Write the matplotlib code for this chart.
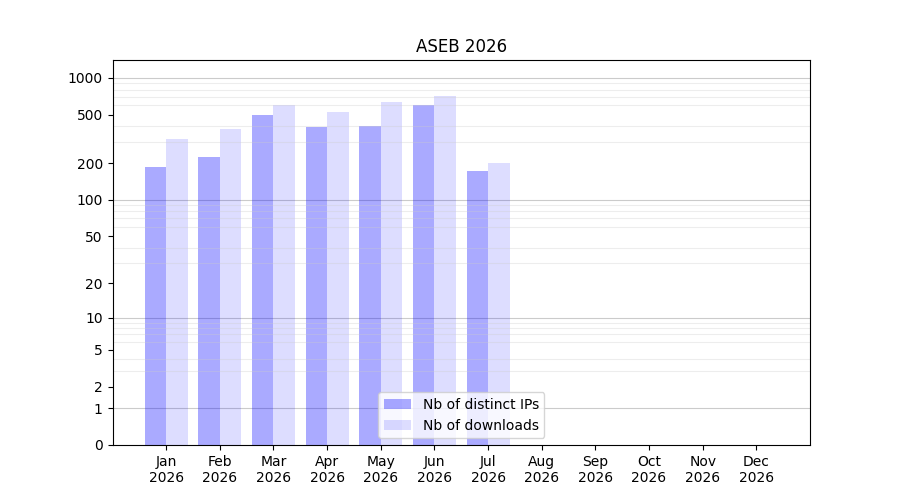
import matplotlib
matplotlib.use("Agg")
import matplotlib.pyplot as plt
import numpy as np

#-------------------------------
#         data
#-------------------------------
months = ["Jan", "Feb", "Mar", "Apr", "May", "Jun", "Jul", "Aug", "Sep", "Oct", "Nov", "Dec"]
year = "2026"
nb_ips = [187, 226, 500, 399, 407, 605, 174, 0, 0, 0, 0, 0]
nb_downloads = [318, 384, 605, 521, 629, 704, 199, 0, 0, 0, 0, 0]
yticks = [0, 1, 2, 5, 10, 20, 50, 100, 200, 500, 1000]

def fwd(v):
    return np.log10(1 + np.clip(v, 0, None))

def inv(v):
    return 10 ** v - 1

#-------------------------------
#         plot
#-------------------------------
fig = plt.figure(figsize=(9, 5), dpi=100)
ax = fig.add_subplot(111)
x = np.arange(len(months))

ax.bar(x - 0.2, nb_ips, width=0.4, color=(0, 0, 1, 0.333), label="Nb of distinct IPs")
ax.bar(x + 0.2, nb_downloads, width=0.4, color=(0, 0, 1, 0.133), label="Nb of downloads")

ax.set_yscale("function", functions=(fwd, inv))
ax.set_ylim(0, 1400)
ax.set_xlim(-1, 12)

minor = [m * 10 ** k for k in range(0, 4) for m in range(2, 10) if m * 10 ** k < 1400]
ax.set_yticks(minor, minor=True)
ax.tick_params(axis="y", which="minor", length=0)
ax.set_yticks(yticks)
ax.set_yticklabels([str(v) for v in yticks])
ax.grid(True, which="minor", axis="y", color="#cccccc", alpha=0.35, lw=0.8)
for d in [1, 10, 100, 1000]:
    ax.axhline(d, color="#999999", alpha=0.5, lw=0.8, zorder=0.5)

ax.set_xticks(x)
ax.set_xticklabels([m + "\n" + year for m in months])
ax.set_title("ASEB 2026")
ax.legend(loc="lower center")

fig.savefig("out.png")
